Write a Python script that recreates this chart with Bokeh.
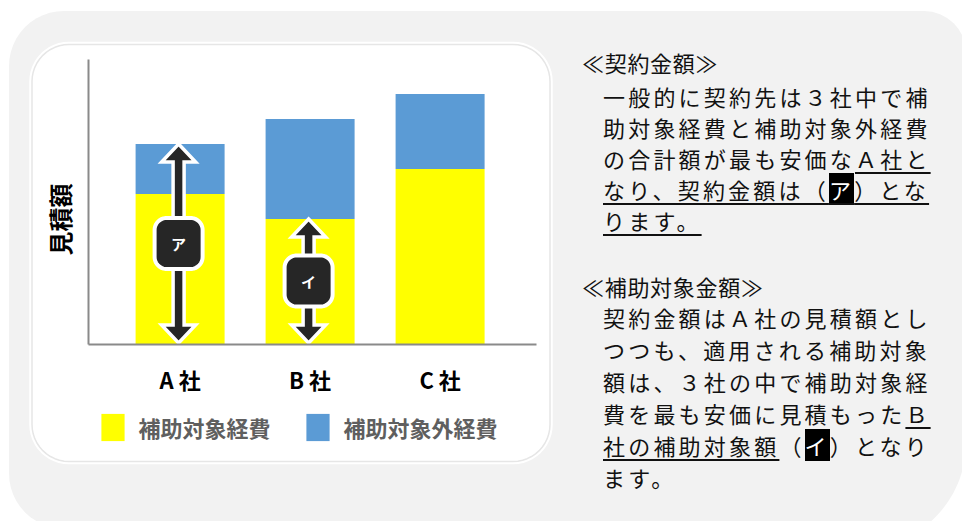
import math
from bokeh.plotting import figure
from bokeh.models import Range1d, FixedTicker, Legend, LegendItem, Div, ColumnDataSource
from bokeh.layouts import row
from bokeh.core.properties import value
from bokeh.embed import file_html
from bokeh.resources import INLINE

# ---------------- data ----------------
companies = ["A 社", "B 社", "C 社"]
eligible = [6, 5, 7]          # 補助対象経費
ineligible = [2, 4, 3]        # 補助対象外経費
series_names = ["補助対象経費", "補助対象外経費"]
series_colors = ["#ffff00", "#5b9bd5"]
y_title = "見積額"
arrow_labels = ["ア", "イ"]
arrow_company = [0, 1]                                   # A社, B社
arrow_top = [eligible[0] + ineligible[0], eligible[1]]   # ア = A社合計, イ = B社補助対象経費

heading1 = "≪契約金額≫"
body1 = [
    "一般的に契約先は３社中で補",
    "助対象経費と補助対象外経費",
    "の合計額が最も安価なＡ社と",
    "なり、契約金額は（ア）とな",
    "ります。",
]
body1_underline = {2: (10, 13), 3: (0, 13), 4: (0, 4)}
body1_highlight = {3: 9}

heading2 = "≪補助対象金額≫"
body2 = [
    "契約金額はＡ社の見積額とし",
    "つつも、適用される補助対象",
    "額は、３社の中で補助対象経",
    "費を最も安価に見積もったＢ",
    "社の補助対象額（イ）となり",
    "ます。",
]
body2_underline = {3: (12, 13), 4: (0, 7)}
body2_highlight = {4: 8}

# ---------------- layout helpers ----------------
FONT = "Noto Sans CJK JP"
FIG_W, FIG_H = 560, 521
BASE_PX, UNIT_PX = 343.5, 25.0      # pixel of value 0, pixels per unit
CAT0_PX, CAT_PX = 179.6, 130.0      # pixel of first category, pixels per category


def xd(px):
    return (px - CAT0_PX) / CAT_PX


def yd(py):
    return (BASE_PX - py) / UNIT_PX


def rrect_px(x0, y0, x1, y1, r, n=12):
    pts = []
    for cx, cy, a0 in [(x0 + r, y0 + r, 180), (x1 - r, y0 + r, 270),
                       (x1 - r, y1 - r, 0), (x0 + r, y1 - r, 90)]:
        for k in range(n + 1):
            t = math.radians(a0 + 90 * k / n)
            pts.append((cx + r * math.cos(t), cy + r * math.sin(t)))
    return [xd(p[0]) for p in pts], [yd(p[1]) for p in pts]


p = figure(width=FIG_W, height=FIG_H, title=None,
           x_range=Range1d(xd(0), xd(FIG_W)), y_range=Range1d(yd(FIG_H), yd(0)),
           output_backend="svg", toolbar_location=None, min_border=0)
p.xgrid.visible = False
p.ygrid.visible = False
p.outline_line_color = None
p.background_fill_color = "white"
p.border_fill_color = "white"

# background panels
gx, gy = rrect_px(8.5, 10.5, 700, 528, 55)
p.patch(gx, gy, fill_color="#f2f2f2", line_color=None)
ox, oy = rrect_px(29.5, 42, 551.5, 463, 39)
p.patch(ox, oy, fill_color="white", line_color="white", line_width=1.5)
ix, iy = rrect_px(31.5, 44, 549.5, 461, 37)
p.patch(ix, iy, fill_color=None, line_color="#e6e6e6", line_width=1.5)

# stacked bars
src = ColumnDataSource(dict(x=list(range(len(companies))), eligible=eligible, ineligible=ineligible))
bars = p.vbar_stack(["eligible", "ineligible"], x="x", width=89 / CAT_PX, source=src,
                    fill_color=series_colors, line_color=None)

# axes
p.xaxis.fixed_location = 0
p.xaxis.bounds = (xd(88), xd(536))
p.xaxis.ticker = FixedTicker(ticks=list(range(len(companies))))
p.xaxis.major_label_overrides = {i: c for i, c in enumerate(companies)}
p.xaxis.major_label_text_font = FONT
p.xaxis.major_label_text_font_size = "22px"
p.xaxis.major_label_text_font_style = "bold"
p.xaxis.major_label_text_color = "#000000"
p.xaxis.major_label_standoff = 13
p.yaxis.fixed_location = xd(88)
p.yaxis.bounds = (0, yd(59))
p.yaxis.ticker = FixedTicker(ticks=[])
for ax in (p.xaxis, p.yaxis):
    ax.axis_line_color = "#8a8a8a"
    ax.axis_line_width = 2
    ax.major_tick_line_color = None
    ax.minor_tick_line_color = None

# y title
p.text(x=[xd(59)], y=[yd(219)], text=[y_title], angle=math.pi / 2,
       text_font=value(FONT), text_font_size="24px", text_font_style="bold",
       text_color="#000000", text_align="center", text_baseline="middle")

# double arrows with labels
SHAFT, HEAD_W, HEAD_L = 5.5, 17.0, 18.0
for ci, top, lab in zip(arrow_company, arrow_top, arrow_labels):
    cxp = CAT0_PX + ci * CAT_PX - 1.5
    ytop = BASE_PX - top * UNIT_PX
    ybot = BASE_PX - 1
    pts = [(cxp, ytop), (cxp + HEAD_W, ytop + HEAD_L), (cxp + SHAFT, ytop + HEAD_L),
           (cxp + SHAFT, ybot - HEAD_L), (cxp + HEAD_W, ybot - HEAD_L), (cxp, ybot),
           (cxp - HEAD_W, ybot - HEAD_L), (cxp - SHAFT, ybot - HEAD_L),
           (cxp - SHAFT, ytop + HEAD_L), (cxp - HEAD_W, ytop + HEAD_L)]
    p.patch([xd(q[0]) for q in pts], [yd(q[1]) for q in pts], fill_color="#262626",
            line_color="white", line_width=3.5, line_join="miter")
    ymid = (ytop + ybot) / 2
    bx, by = rrect_px(cxp - 24, ymid - 25.5, cxp + 24, ymid + 25.5, 12)
    p.patch(bx, by, fill_color="#262626", line_color="white", line_width=4)
    p.text(x=[xd(cxp)], y=[yd(ymid)], text=[lab], text_font=value(FONT), text_font_size="15px",
           text_font_style="bold", text_color="white", text_align="center", text_baseline="middle")

# legend
legend = Legend(items=[LegendItem(label=value(series_names[i]), renderers=[bars[i]]) for i in range(2)],
                orientation="horizontal", location=(97.5, FIG_H - 444),
                glyph_width=29, glyph_height=34, label_standoff=12, spacing=32,
                padding=0, margin=0, border_line_color=None, background_fill_alpha=0,
                label_text_font=FONT, label_text_font_size="22px", label_text_font_style="bold",
                label_text_color="#5f5f5f")
p.add_layout(legend)


# ---------------- right text panel ----------------
def markup(text, ul=None, hl=None):
    html, in_ul = "", False
    for i, ch in enumerate(text):
        u = ul is not None and ul[0] <= i < ul[1]
        if u and not in_ul:
            html += ('<span style="text-decoration:underline;text-decoration-thickness:2px;'
                     'text-underline-offset:4px;">')
        if not u and in_ul:
            html += "</span>"
        in_ul = u
        if hl is not None and i == hl:
            html += f'<span style="background:#000;color:#fff;">{ch}</span>'
        else:
            html += ch
    if in_ul:
        html += "</span>"
    return html


def line_div(center, left, html, ls, fs):
    return (f'<div style="position:absolute;left:{left}px;top:{center - 16}px;height:30px;'
            f'line-height:30px;font-size:{fs}px;letter-spacing:{ls}px;white-space:nowrap;">{html}</div>')


parts = ['<div style="position:relative;width:402px;height:521px;overflow:hidden;background:#fff;'
         f'font-family:\'{FONT}\',sans-serif;color:#111;">',
         '<div style="position:absolute;left:0;top:10.5px;width:406px;height:537.5px;'
         'background:#f2f2f2;border-radius:0 42px 105px 0;"></div>']
parts.append(line_div(63, 22, heading1, 0.7, 22))
for k, t in enumerate(body1):
    parts.append(line_div(97 + 31 * k, 43, markup(t, body1_underline.get(k), body1_highlight.get(k)), 3.2, 22))
parts.append(line_div(287, 22, heading2, 0.7, 22))
for k, t in enumerate(body2):
    parts.append(line_div(318 + 32 * k, 43, markup(t, body2_underline.get(k), body2_highlight.get(k)), 3.2, 22))
parts.append("</div>")

div = Div(text="".join(parts), width=402, height=521, margin=(0, 0, 0, 0))
layout = row(p, div)

open("out.html", "w").write(file_html(layout, INLINE))
